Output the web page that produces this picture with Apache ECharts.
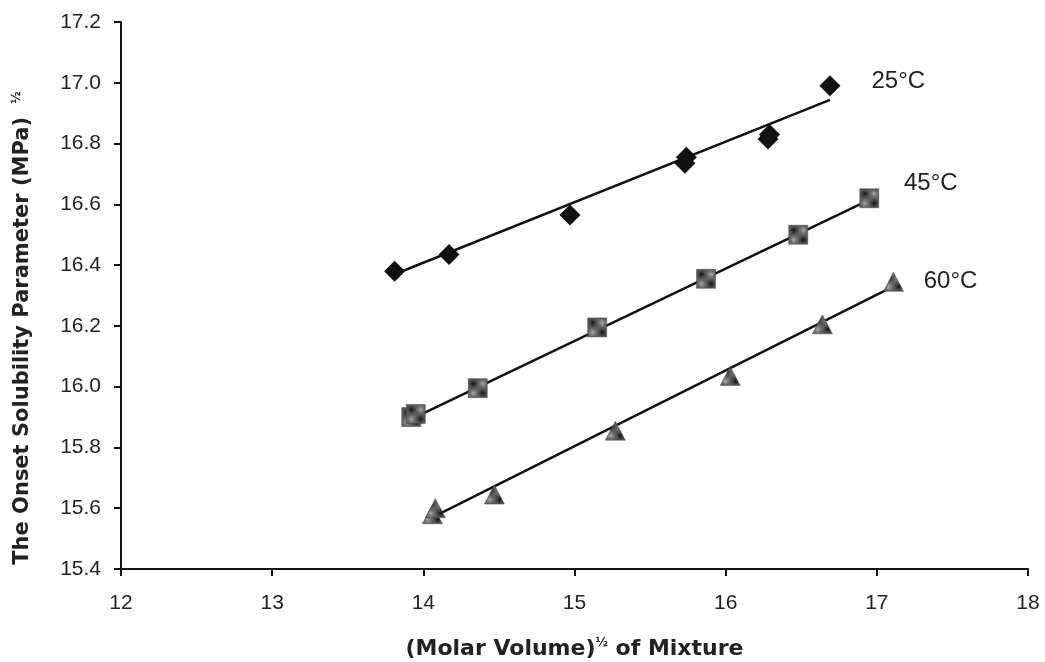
<!DOCTYPE html>
<html>
<head>
<meta charset="utf-8">
<script src="https://cdn.jsdelivr.net/npm/echarts@6/dist/echarts.min.js"></script>
<style>html,body{margin:0;padding:0;background:#fff}#c{width:1045px;height:662px}</style>
</head>
<body>
<div id="c"></div>
<script>
// Data
const pts25 = [[13.81,16.38],[14.17,16.435],[14.97,16.565],[15.73,16.735],[15.74,16.755],[16.28,16.815],[16.29,16.83],[16.69,16.99]];
const pts45 = [[13.92,15.90],[13.95,15.91],[14.36,15.995],[15.15,16.195],[15.87,16.355],[16.48,16.50],[16.95,16.62]];
const pts60 = [[14.06,15.58],[14.08,15.60],[14.47,15.645],[15.27,15.855],[16.03,16.035],[16.64,16.205],[17.11,16.345]];
const trend25 = [[13.81,16.37],[16.69,16.944]];
const trend45 = [[13.92,15.893],[16.95,16.615]];
const trend60 = [[14.08,15.575],[17.11,16.33]];
const seriesNames = ['25°C','45°C','60°C'];
const xTicks = [12,13,14,15,16,17,18];
const yTicks = [15.4,15.6,15.8,16.0,16.2,16.4,16.6,16.8,17.0,17.2];

// checkered fill pattern for the hatched markers
const pat = document.createElement('canvas');
pat.width = 2; pat.height = 2;
(function(){
  const g = pat.getContext('2d');
  g.fillStyle = '#a8a8a8'; g.fillRect(0,0,2,2);
  g.fillStyle = '#111111'; g.fillRect(0,0,1,1); g.fillRect(1,1,1,1);
})();
const patFill = {image: pat, repeat: 'repeat'};

const chart = echarts.init(document.getElementById('c'), null, {renderer:'canvas'});
const font = 'Liberation Sans';
const labelStyle = {color:'#222', fontSize:24, fontFamily:font};

function lastLabel(pts, opts){
  return pts.map((p,i)=> i===pts.length-1 ? {value:p, label:Object.assign({show:true, formatter:opts.text}, labelStyle, opts.cfg)} : p);
}

const option = {
  animation:false,
  backgroundColor:'#fff',
  grid:{left:121, right:17, top:22, bottom:93, containLabel:false, outerBoundsMode:'none'},
  graphic:[{
    type:'text', x:23, y:328, rotation:Math.PI/2,
    style:{
      text:'The Onset Solubility Parameter (MPa) {s|½}',
      font:'bold 21px DejaVu Sans, sans-serif', fill:'#222',
      align:'center', verticalAlign:'middle',
      rich:{s:{font:'bold 12px DejaVu Sans, sans-serif', fill:'#222', padding:[0,0,12,6]}}
    }
  }],
  xAxis:{
    type:'value', min:12, max:18, interval:1,
    axisLine:{show:true, onZero:false, lineStyle:{color:'#111', width:2}},
    axisTick:{show:true, inside:false, length:7, lineStyle:{color:'#111', width:2}},
    splitLine:{show:false},
    axisLabel:{color:'#222', fontSize:21, fontFamily:font, margin:24,
      formatter:v=>xTicks.includes(v)?String(v):''},
    name:'(Molar Volume){s|½} of Mixture', nameLocation:'middle', nameGap:68,
    nameTextStyle:{color:'#222', fontSize:22, fontWeight:'bold', fontFamily:'DejaVu Sans',
      rich:{s:{fontSize:12, fontWeight:'bold', verticalAlign:'top', padding:[0,0,12,0], fontFamily:'DejaVu Sans', color:'#222'}}}
  },
  yAxis:{
    type:'value', min:15.4, max:17.2, interval:0.2,
    axisLine:{show:true, onZero:false, lineStyle:{color:'#111', width:2}},
    axisTick:{show:true, inside:false, length:7, lineStyle:{color:'#111', width:2}},
    splitLine:{show:false},
    axisLabel:{color:'#222', fontSize:21, fontFamily:font, margin:20,
      formatter:v=>{const t=yTicks.find(k=>Math.abs(k-v)<1e-6); return t!==undefined?t.toFixed(1):'';}}
  },
  series:[
    {type:'line', data:trend25, symbol:'none', lineStyle:{color:'#111', width:2.5}, z:2},
    {type:'line', data:trend45, symbol:'none', lineStyle:{color:'#111', width:2.5}, z:2},
    {type:'line', data:trend60, symbol:'none', lineStyle:{color:'#111', width:2.5}, z:2},
    {type:'scatter', name:seriesNames[0], symbol:'diamond', symbolSize:[21,21],
      itemStyle:{color:'#111', opacity:1},
      data:lastLabel(pts25,{text:seriesNames[0], cfg:{position:'right', distance:31, offset:[0,-4]}}), z:3},
    {type:'scatter', name:seriesNames[1], symbol:'rect', symbolSize:19,
      itemStyle:{color:patFill, borderColor:'#444', borderWidth:0.5, opacity:1},
      data:lastLabel(pts45,{text:seriesNames[1], cfg:{position:'right', distance:25, offset:[0,-15]}}), z:3},
    {type:'scatter', name:seriesNames[2], symbol:'triangle', symbolSize:[20,19],
      itemStyle:{color:patFill, borderColor:'#444', borderWidth:0.5, opacity:1},
      data:lastLabel(pts60,{text:seriesNames[2], cfg:{position:'right', distance:20, offset:[0,0]}}), z:3}
  ]
};
chart.setOption(option);
</script>
</body>
</html>
